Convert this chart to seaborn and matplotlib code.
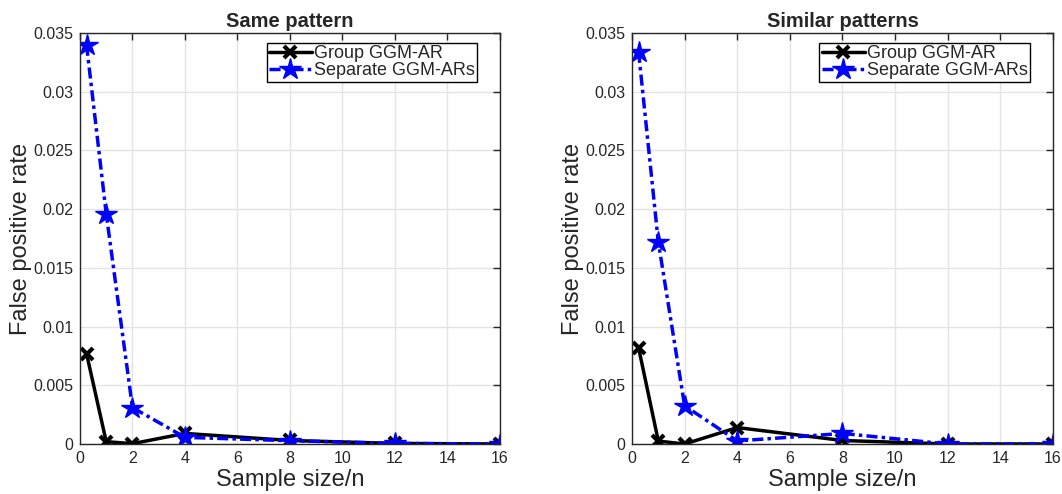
import numpy as np
import pandas as pd
import seaborn as sns
import matplotlib
matplotlib.use("Agg")
import matplotlib.pyplot as plt

# Sample sizes (relative to n)
sample_size = [0.25, 1, 2, 4, 8, 12, 16]

# False positive rates, "Same pattern"
same_group = [0.0077, 0.0002, 0.00003, 0.0009, 0.0003, 0.00005, 0.0]
same_separate = [0.0340, 0.0196, 0.0031, 0.00057, 0.00028, 0.00005, 0.0]

# False positive rates, "Similar patterns"
similar_group = [0.0082, 0.00025, 0.0, 0.0014, 0.0003, 0.0, 0.0]
similar_separate = [0.0334, 0.0172, 0.00326, 0.00026, 0.0009, 0.0, 0.0]

titles = ["Same pattern", "Similar patterns"]
series_names = ["Group GGM-AR", "Separate GGM-ARs"]
x_ticks = [0, 2, 4, 6, 8, 10, 12, 14, 16]
y_ticks = [0, 0.005, 0.01, 0.015, 0.02, 0.025, 0.03, 0.035]
y_tick_labels = ["0", "0.005", "0.01", "0.015", "0.02", "0.025", "0.03", "0.035"]

sns.set_style("whitegrid")
plt.rcParams["font.family"] = ["Liberation Sans", "DejaVu Sans"]

fig = plt.figure(figsize=(10.62, 4.94), dpi=100)
ax_left = fig.add_axes([0.0753, 0.1012, 0.3955, 0.832])
ax_right = fig.add_axes([0.5951, 0.1012, 0.3964, 0.832])

panels = [
    (ax_left, same_group, same_separate),
    (ax_right, similar_group, similar_separate),
]

axis_gray = "#262626"
dash_dot = (0, (3.2, 1.2, 1.0, 1.2))
for (ax, grp, sep), title in zip(panels, titles):
    df = pd.DataFrame({"x": sample_size, "group": grp, "separate": sep})
    sns.lineplot(data=df, x="x", y="group", ax=ax, color="black", lw=2.5,
                 marker="x", markersize=9, markeredgewidth=3,
                 markeredgecolor="black", label=series_names[0])
    sns.lineplot(data=df, x="x", y="separate", ax=ax, color="#0000ff", lw=2.5,
                 linestyle=dash_dot, marker="*", markersize=16, markeredgewidth=1,
                 markeredgecolor="#0000ff", label=series_names[1])
    ax.set_xlim(0, 16)
    ax.set_ylim(0, 0.035)
    ax.set_xticks(x_ticks)
    ax.set_yticks(y_ticks)
    ax.set_yticklabels(y_tick_labels)
    ax.grid(True, color="#e3e3e3", lw=1)
    ax.set_axisbelow(True)
    for sp in ax.spines.values():
        sp.set_visible(True)
        sp.set_color(axis_gray)
        sp.set_linewidth(1.0)
    ax.tick_params(direction="in", length=5, width=1, colors=axis_gray,
                   labelsize=11.5, top=True, right=True, pad=5)
    ax.tick_params(axis="x", pad=5)
    ax.set_xlabel("Sample size/n", fontsize=17, color=axis_gray, labelpad=2)
    ax.set_ylabel("False positive rate", fontsize=17, color=axis_gray, labelpad=1)
    ax.set_title(title, fontsize=14.5, fontweight="bold", pad=4)
    leg = ax.legend(loc="upper right", bbox_to_anchor=(0.945, 0.975),
                    fontsize=13, frameon=True, fancybox=False, framealpha=1,
                    edgecolor="black", borderpad=0.12, labelspacing=0.0,
                    handlelength=2.4, handletextpad=0.1, borderaxespad=0)
    leg.get_frame().set_linewidth(1.0)

fig.savefig("out.png", dpi=100)
